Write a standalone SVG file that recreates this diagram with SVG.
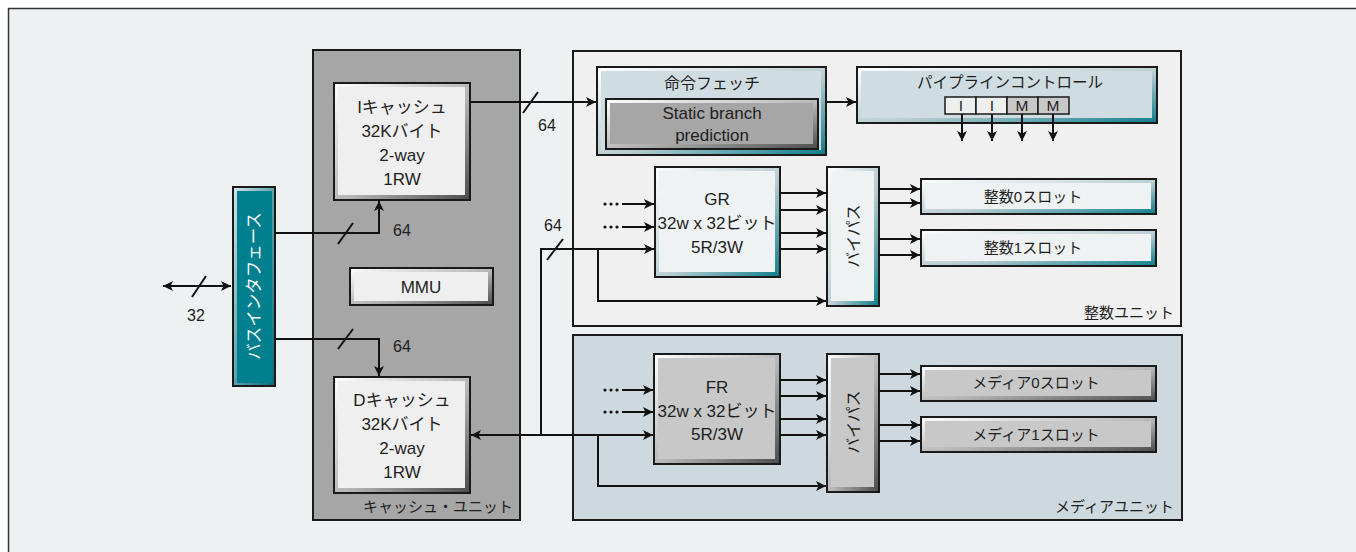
<svg xmlns="http://www.w3.org/2000/svg" width="1356" height="552" viewBox="0 0 1356 552">
<defs>
<style>
text{font-family:"Liberation Sans","Noto Sans CJK JP",sans-serif;fill:#1e1e1e}
.t17{font-size:17px;text-anchor:middle}
.t16{font-size:16px;text-anchor:middle}
.t15{font-size:15.5px;text-anchor:middle}
.t14{font-size:15px;text-anchor:middle}
.lbl{font-size:15px;text-anchor:end}
.edge{stroke:#1a1a1a;stroke-width:2}
.ln{fill:none;stroke:#111;stroke-width:2}
.ar{fill:none;stroke:#111;stroke-width:2;marker-end:url(#ah)}
</style>
<linearGradient id="bvTeal" x1="0" y1="0" x2="1" y2="1">
<stop offset="0" stop-color="#ffffff"/><stop offset="0.55" stop-color="#b9cdd2"/><stop offset="1" stop-color="#0b7d8b"/>
</linearGradient>
<linearGradient id="bvGray" x1="0" y1="0" x2="1" y2="1">
<stop offset="0" stop-color="#ffffff"/><stop offset="0.55" stop-color="#b4b4b4"/><stop offset="1" stop-color="#4a4a4a"/>
</linearGradient>
<linearGradient id="bvBus" x1="0" y1="0" x2="1" y2="1">
<stop offset="0" stop-color="#d6e6e9"/><stop offset="0.5" stop-color="#5aa3ad"/><stop offset="1" stop-color="#0a6874"/>
</linearGradient>
<marker id="ah" viewBox="0 0 10 10" refX="10" refY="5" markerWidth="11" markerHeight="10" markerUnits="userSpaceOnUse" orient="auto-start-reverse">
<path d="M0,0 L10,5 L0,10 L2.5,5 z" fill="#111"/>
</marker>
</defs>

<rect x="8.5" y="8.5" width="1360" height="560" fill="#edf1f2" stroke="#333" stroke-width="1.5"/>

<g id="cache-unit">
<rect x="313" y="50" width="207" height="470" fill="#a6a6a6" class="edge"/>
<text class="lbl" x="513" y="512">キャッシュ・ユニット</text>
</g>

<g id="int-unit">
<rect x="573" y="51" width="608" height="275" fill="#f0f0f0" class="edge"/>
<text class="lbl" x="1174" y="318">整数ユニット</text>
</g>

<g id="media-unit">
<rect x="573" y="335" width="609" height="185" fill="#cdd9de" class="edge"/>
<text class="lbl" x="1174" y="512">メディアユニット</text>
</g>

<g id="bus-if">
<rect x="233" y="187" width="42" height="199" fill="url(#bvBus)" class="edge"/>
<rect x="237" y="191" width="35" height="192" fill="#00808e"/>
<text transform="translate(254,286) rotate(-90)" style="font-size:16.5px;text-anchor:middle;fill:#ffffff" dominant-baseline="central">バスインタフェース</text>
</g>

<g id="icache">
<rect x="334" y="83" width="136" height="117" fill="url(#bvGray)" class="edge"/>
<rect x="338" y="87" width="127" height="108" fill="#efefef"/>
<text class="t17" x="402" y="113">Iキャッシュ</text>
<text class="t17" x="402" y="137">32Kバイト</text>
<text class="t17" x="402" y="161">2-way</text>
<text class="t17" x="402" y="185">1RW</text>
</g>

<g id="mmu">
<rect x="350" y="268" width="143" height="37" fill="url(#bvGray)" class="edge"/>
<rect x="354" y="272" width="134" height="29" fill="#efefef"/>
<text class="t17" x="421" y="293">MMU</text>
</g>

<g id="dcache">
<rect x="334" y="377" width="136" height="116" fill="url(#bvGray)" class="edge"/>
<rect x="338" y="381" width="127" height="107" fill="#efefef"/>
<text class="t17" x="402" y="406">Dキャッシュ</text>
<text class="t17" x="402" y="430">32Kバイト</text>
<text class="t17" x="402" y="454">2-way</text>
<text class="t17" x="402" y="478">1RW</text>
</g>

<g id="fetch">
<rect x="597" y="67" width="229" height="88" fill="url(#bvTeal)" class="edge"/>
<rect x="601" y="71" width="220" height="79" fill="#cfdde2"/>
<text class="t16" x="712" y="89">命令フェッチ</text>
<rect x="606" y="99" width="212" height="50" fill="url(#bvGray)" class="edge"/>
<rect x="610" y="103" width="203" height="41" fill="#a6a6a6"/>
<text class="t17" x="712" y="119">Static branch</text>
<text class="t17" x="712" y="141">prediction</text>
</g>

<g id="pipeline">
<rect x="857" y="67" width="300" height="56" fill="url(#bvTeal)" class="edge"/>
<rect x="861" y="71" width="291" height="47" fill="#cfdde2"/>
<text class="t15" x="1010" y="88">パイプラインコントロール</text>
<rect x="945" y="97" width="31" height="17" fill="#eef0f0" stroke="#1a1a1a" stroke-width="1.5"/>
<rect x="976" y="97" width="31" height="17" fill="#eef0f0" stroke="#1a1a1a" stroke-width="1.5"/>
<rect x="1007" y="97" width="31" height="17" fill="#c8c8c8" stroke="#1a1a1a" stroke-width="1.5"/>
<rect x="1038" y="97" width="31" height="17" fill="#c8c8c8" stroke="#1a1a1a" stroke-width="1.5"/>
<text class="t15" x="961" y="111">I</text>
<text class="t15" x="992" y="111">I</text>
<text class="t15" x="1022" y="111">M</text>
<text class="t15" x="1053" y="111">M</text>
</g>

<g id="gr">
<rect x="655" y="167" width="125" height="110" fill="url(#bvTeal)" class="edge"/>
<rect x="659" y="171" width="116" height="101" fill="#eef2f3"/>
<text class="t17" x="717" y="205">GR</text>
<text class="t17" x="717" y="229">32w x 32ビット</text>
<text class="t17" x="717" y="253">5R/3W</text>
</g>

<g id="bypass-int">
<rect x="827" y="167" width="52" height="139" fill="url(#bvTeal)" class="edge"/>
<rect x="831" y="171" width="43" height="130" fill="#eef2f3"/>
<text transform="translate(853,236) rotate(-90)" class="t16" dominant-baseline="central">バイパス</text>
</g>

<g id="int-slot0">
<rect x="921" y="179" width="235" height="35" fill="url(#bvTeal)" class="edge"/>
<rect x="925" y="183" width="226" height="26" fill="#eef2f3"/>
<text class="t14" x="1033" y="202">整数0スロット</text>
</g>

<g id="int-slot1">
<rect x="921" y="230" width="235" height="36" fill="url(#bvTeal)" class="edge"/>
<rect x="925" y="234" width="226" height="27" fill="#eef2f3"/>
<text class="t14" x="1033" y="253">整数1スロット</text>
</g>

<g id="fr">
<rect x="654" y="354" width="126" height="110" fill="url(#bvGray)" class="edge"/>
<rect x="658" y="358" width="117" height="101" fill="#c8c8c8"/>
<text class="t17" x="717" y="393">FR</text>
<text class="t17" x="717" y="417">32w x 32ビット</text>
<text class="t17" x="717" y="440">5R/3W</text>
</g>

<g id="bypass-media">
<rect x="827" y="354" width="52" height="138" fill="url(#bvGray)" class="edge"/>
<rect x="831" y="358" width="43" height="129" fill="#c8c8c8"/>
<text transform="translate(853,422) rotate(-90)" class="t16" dominant-baseline="central">バイパス</text>
</g>

<g id="media-slot0">
<rect x="921" y="366" width="235" height="35" fill="url(#bvGray)" class="edge"/>
<rect x="925" y="370" width="226" height="26" fill="#c8c8c8"/>
<text class="t14" x="1036" y="388">メディア0スロット</text>
</g>

<g id="media-slot1">
<rect x="921" y="417" width="235" height="35" fill="url(#bvGray)" class="edge"/>
<rect x="925" y="421" width="226" height="26" fill="#c8c8c8"/>
<text class="t14" x="1036" y="440">メディア1スロット</text>
</g>

<g id="connectors">
<line x1="163" y1="286" x2="231" y2="286" class="ln" marker-start="url(#ah)" marker-end="url(#ah)"/>
<line x1="192" y1="297" x2="206" y2="276" class="ln"/>
<text class="t16" x="196" y="321">32</text>
<polyline points="275,233 379,233 379,201" class="ar"/>
<line x1="338" y1="244" x2="353" y2="223" class="ln"/>
<text class="t16" x="402" y="236">64</text>
<polyline points="275,339 379,339 379,376" class="ar"/>
<line x1="338" y1="349" x2="353" y2="329" class="ln"/>
<text class="t16" x="402" y="352">64</text>
<line x1="470" y1="102" x2="596" y2="102" class="ar"/>
<line x1="523" y1="113" x2="538" y2="92" class="ln"/>
<text class="t16" x="547" y="131">64</text>
<line x1="826" y1="102" x2="856" y2="102" class="ar"/>
<line x1="962" y1="114" x2="962" y2="141" class="ar"/>
<line x1="992" y1="114" x2="992" y2="141" class="ar"/>
<line x1="1022" y1="114" x2="1022" y2="141" class="ar"/>
<line x1="1053" y1="114" x2="1053" y2="141" class="ar"/>
<line x1="471" y1="435" x2="541" y2="435" class="ln" marker-start="url(#ah)"/>
<polyline points="541,435 541,249 654,249" class="ar"/>
<line x1="541" y1="435" x2="653" y2="435" class="ar"/>
<line x1="547" y1="260" x2="563" y2="239" class="ln"/>
<text class="t16" x="553" y="231">64</text>
<circle cx="605" cy="204" r="1.6" fill="#111"/><circle cx="611" cy="204" r="1.6" fill="#111"/><circle cx="617" cy="204" r="1.6" fill="#111"/>
<line x1="622" y1="204" x2="654" y2="204" class="ar"/>
<circle cx="605" cy="227" r="1.6" fill="#111"/><circle cx="611" cy="227" r="1.6" fill="#111"/><circle cx="617" cy="227" r="1.6" fill="#111"/>
<line x1="622" y1="227" x2="654" y2="227" class="ar"/>
<polyline points="598,249 598,301 826,301" class="ar"/>
<line x1="780" y1="193" x2="826" y2="193" class="ar"/>
<line x1="780" y1="210" x2="826" y2="210" class="ar"/>
<line x1="780" y1="233" x2="826" y2="233" class="ar"/>
<line x1="780" y1="249" x2="826" y2="249" class="ar"/>
<line x1="879" y1="189" x2="920" y2="189" class="ar"/>
<line x1="879" y1="203" x2="920" y2="203" class="ar"/>
<line x1="879" y1="239" x2="920" y2="239" class="ar"/>
<line x1="879" y1="255" x2="920" y2="255" class="ar"/>
<circle cx="605" cy="390" r="1.6" fill="#111"/><circle cx="611" cy="390" r="1.6" fill="#111"/><circle cx="617" cy="390" r="1.6" fill="#111"/>
<line x1="622" y1="390" x2="653" y2="390" class="ar"/>
<circle cx="605" cy="412" r="1.6" fill="#111"/><circle cx="611" cy="412" r="1.6" fill="#111"/><circle cx="617" cy="412" r="1.6" fill="#111"/>
<line x1="622" y1="412" x2="653" y2="412" class="ar"/>
<polyline points="598,435 598,486 826,486" class="ar"/>
<line x1="780" y1="380" x2="826" y2="380" class="ar"/>
<line x1="780" y1="396" x2="826" y2="396" class="ar"/>
<line x1="780" y1="419" x2="826" y2="419" class="ar"/>
<line x1="780" y1="435" x2="826" y2="435" class="ar"/>
<line x1="879" y1="374" x2="920" y2="374" class="ar"/>
<line x1="879" y1="391" x2="920" y2="391" class="ar"/>
<line x1="879" y1="425" x2="920" y2="425" class="ar"/>
<line x1="879" y1="441" x2="920" y2="441" class="ar"/>
</g>
</svg>
